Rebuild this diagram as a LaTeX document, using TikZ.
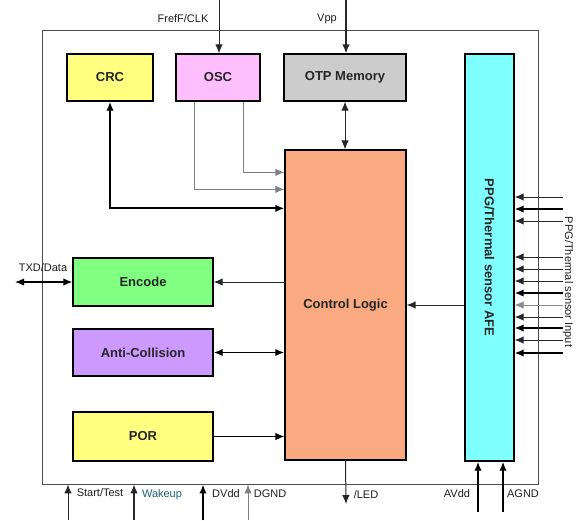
\documentclass[tikz,border=0pt]{standalone}
\usepackage{fontspec}
\setmainfont{Liberation Sans}
\usetikzlibrary{arrows.meta,positioning,calc}
\definecolor{crcyellow}{RGB}{255,255,128}
\definecolor{oscpink}{RGB}{255,191,255}
\definecolor{otpgray}{RGB}{204,204,204}
\definecolor{ctrlsalmon}{RGB}{250,170,128}
\definecolor{encgreen}{RGB}{128,255,128}
\definecolor{antipurple}{RGB}{204,153,255}
\definecolor{afecyan}{RGB}{128,255,255}
\definecolor{wakeblue}{RGB}{30,95,120}
\definecolor{labelgray}{RGB}{30,30,30}
\tikzset{
  basebox/.style={rectangle,draw=black,line width=1.3pt,inner sep=0pt,align=center,
    font=\fontsize{13}{15}\selectfont\bfseries,text=black!85},
  chipbox/.style={rectangle,draw=black!70,line width=0.9pt,inner sep=0pt,minimum width=496pt,minimum height=454pt},
  crcnode/.style={basebox,fill=crcyellow,minimum width=86pt,minimum height=47pt},
  oscnode/.style={basebox,fill=oscpink,minimum width=84pt,minimum height=47pt},
  otpnode/.style={basebox,fill=otpgray,minimum width=122pt,minimum height=47pt},
  ctrlnode/.style={basebox,fill=ctrlsalmon,minimum width=121pt,minimum height=310pt},
  encnode/.style={basebox,fill=encgreen,minimum width=140pt,minimum height=48pt},
  antinode/.style={basebox,fill=antipurple,minimum width=140pt,minimum height=47pt},
  pornode/.style={basebox,fill=crcyellow,minimum width=140pt,minimum height=49pt},
  afenode/.style={basebox,fill=afecyan,minimum width=49pt,minimum height=407pt},
  pinlabel/.style={font=\fontsize{11}{13}\selectfont,text=labelgray,inner sep=0pt},
  tip/.tip={Latex[length=9pt,width=7.5pt]},
  arr/.style={-tip,line width=1pt,color=black!85},
  dblarr/.style={tip-tip,line width=1pt,color=black!85},
  thickarr/.style={-tip,line width=1.9pt,color=black},
  thickdbl/.style={tip-tip,line width=1.9pt,color=black},
  grayarr/.style={-tip,line width=1pt,color=black!50}
}

\begin{document}
\begin{tikzpicture}[x=1pt,y=1pt]
  \useasboundingbox (0,0) rectangle (577,-520);

  % chip outline and blocks
  \node[chipbox] (chip) at (290,-257) {};
  \node[crcnode] (crc) at (110,-77.5) {CRC};
  \node[oscnode] (osc) at (218,-77.5) {OSC};
  \node[otpnode] (otp) at (345,-77.5) {OTP Memory};
  \node[ctrlnode] (ctrl) at (345.5,-305) {Control Logic};
  \node[encnode] (enc) at (143,-282) {Encode};
  \node[antinode] (anti) at (143,-352.5) {Anti-Collision};
  \node[pornode] (por) at (143,-436.5) {POR};
  \node[afenode] (afe) at (489.5,-257.5) {\rotatebox{-90}{PPG/Thermal sensor AFE}};

  % pins
  \coordinate (clkin) at (219,0);
  \coordinate (vppin) at (346,0);
  \coordinate (txd) at (15,-282);
  \coordinate (led) at (346,-504);
  \coordinate (avdd) at (478,-512);
  \coordinate (agnd) at (503,-512);
  \coordinate (start) at (68,-520);
  \coordinate (wake) at (134,-520);
  \coordinate (dvdd) at (203,-520);
  \coordinate (dgnd) at (248,-520);

  \node[pinlabel] (clklbl) at (183,-19) {FrefF/CLK};
  \node[pinlabel] (vpplbl) at (327,-19) {Vpp};
  \node[pinlabel] (txdlbl) at (43,-268) {TXD/Data};
  \node[pinlabel] (ledlbl) at (366,-495) {/LED};
  \node[pinlabel] (avddlbl) at (457,-494) {AVdd};
  \node[pinlabel] (agndlbl) at (523,-494) {AGND};
  \node[pinlabel] (startlbl) at (100,-493) {Start/Test};
  \node[pinlabel,text=wakeblue] (wakelbl) at (162,-495) {Wakeup};
  \node[pinlabel] (dvddlbl) at (226,-494) {DVdd};
  \node[pinlabel] (dgndlbl) at (270,-494) {DGND};
  \node[pinlabel,rotate=-90] (ppglbl) at (568,-282) {PPG/Thermal sensor Input};

  % connections
  \draw[arr] (clkin) -- (clkin |- osc.north);
  \draw[arr,line width=1.3pt] (vppin) -- (vppin |- otp.north);
  \draw[dblarr] (otp.south) -- (otp.south |- ctrl.north);
  \draw[thickdbl] (crc.south) |- ($(ctrl.north west)+(0,-59)$);
  \draw[grayarr] ($(osc.south west)+(19,0)$) |- ($(ctrl.north west)+(0,-40)$);
  \draw[grayarr] ($(osc.south east)+(-17,0)$) |- ($(ctrl.north west)+(0,-23)$);
  \draw[arr] (ctrl.west |- enc.east) -- (enc.east);
  \draw[dblarr,line width=1.3pt,color=black] (txd) -- (enc.west);
  \draw[thickdbl] (anti.east) -- (anti.east -| ctrl.west);
  \draw[arr,color=black] (por.east) -- (por.east -| ctrl.west);
  \draw[arr] (afe.west |- ctrl.east) -- (ctrl.east);
  \draw[arr] (ctrl.south) -- (led);
  \draw[thickarr] (avdd) -- (avdd |- afe.south);
  \draw[thickarr] (agnd) -- (agnd |- afe.south);
  \draw[arr] (start) -- (start |- chip.south);
  \draw[arr,line width=1.3pt] (wake) -- (wake |- chip.south);
  \draw[thickarr] (dvdd) -- (dvdd |- chip.south);
  \draw[grayarr] (dgnd) -- (dgnd |- chip.south);

  \foreach \yy/\lw/\lc in {197/1/black!85,209/1.6/black,221/1/black!85,257/1/black!85,
      269/1/black!85,281/1/black!85,293/1.6/black,305/0.8/black!45,317/1/black!85,
      328/1.6/black,340/1/black!85,353/1.6/black}{
    \coordinate (in\yy) at (563,-\yy);
    \draw[arr,line width=\lw pt,color=\lc] (in\yy) -- (afe.east |- in\yy);
  }
\end{tikzpicture}
\end{document}
